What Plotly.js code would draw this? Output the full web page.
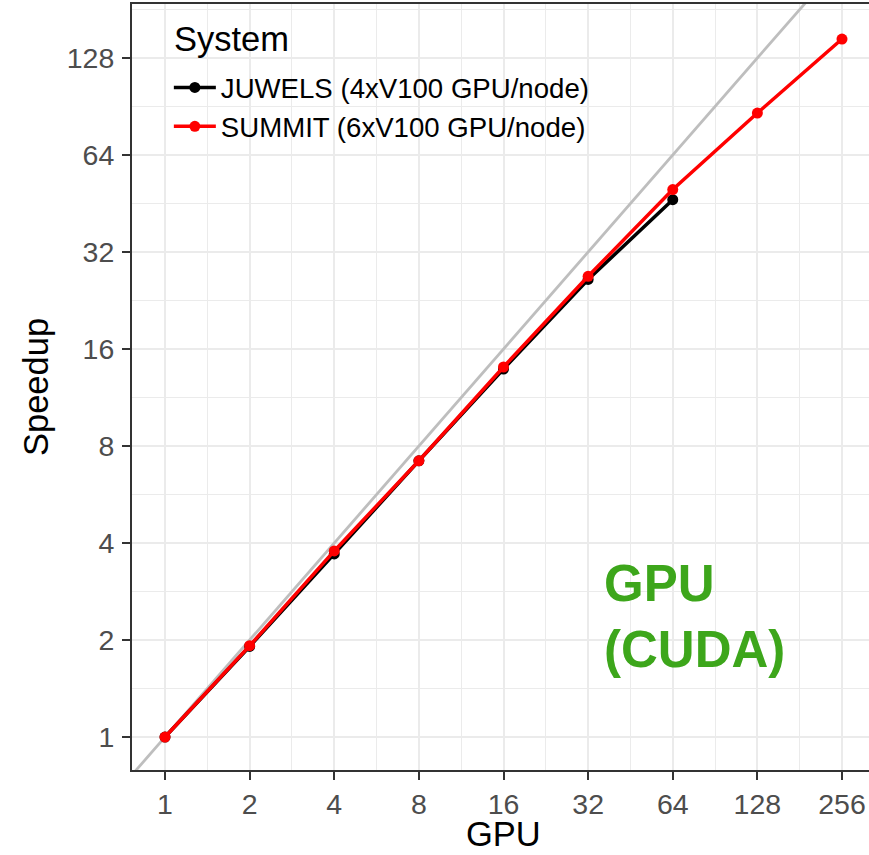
<!DOCTYPE html>
<html>
<head>
<meta charset="utf-8">
<script src="https://cdn.plot.ly/plotly-3.0.1.min.js"></script>
<style>html,body{margin:0;padding:0;background:#fff;}#chart{width:869px;height:855px;}</style>
</head>
<body>
<div id="chart"></div>
<script>
// Data
const gpuTicks = [1, 2, 4, 8, 16, 32, 64, 128, 256];
const speedTicks = [1, 2, 4, 8, 16, 32, 64, 128];
const juwelsGPU = [1, 2, 4, 8, 16, 32, 64];
const juwelsSpeedup = [1, 1.91, 3.70, 7.2, 13.87, 26.3, 46.5];
const summitGPU = [1, 2, 4, 8, 16, 32, 64, 128, 256];
const summitSpeedup = [1, 1.92, 3.78, 7.2, 14.07, 26.9, 50.0, 86.4, 146.6];
const idealGPU = [0.5, 512];
const idealSpeedup = [0.5, 512];

const FONT = '"Liberation Sans", Arial, Helvetica, sans-serif';
const minorX = gpuTicks.map(v => v * Math.SQRT2);
const minorY = speedTicks.map(v => v * Math.SQRT2);

const traces = [
  {x: idealGPU, y: idealSpeedup, mode: 'lines', showlegend: false, hoverinfo: 'skip',
   line: {color: '#bebebe', width: 2.8}},
  {x: juwelsGPU, y: juwelsSpeedup, mode: 'lines+markers', name: 'JUWELS (4xV100 GPU/node)',
   line: {color: '#000000', width: 3.5}, marker: {color: '#000000', size: 11}},
  {x: summitGPU, y: summitSpeedup, mode: 'lines+markers', name: 'SUMMIT (6xV100 GPU/node)',
   line: {color: '#ff0000', width: 3.5}, marker: {color: '#ff0000', size: 11}}
];

const axisCommon = {
  type: 'log',
  showgrid: true, gridcolor: '#ebebeb', gridwidth: 2,
  zeroline: false,
  showline: true, linecolor: '#333333', linewidth: 2,
  ticks: 'outside', ticklen: 8, tickwidth: 2, tickcolor: '#333333',
  tickfont: {family: FONT, size: 28.5, color: '#4d4d4d'},
  ticklabelstandoff: 2
};

const layout = {
  width: 869, height: 855,
  margin: {l: 132, r: 0, t: 4, b: 85},
  paper_bgcolor: '#ffffff', plot_bgcolor: '#ffffff',
  font: {family: FONT, color: '#000000'},
  xaxis: Object.assign({}, axisCommon, {
    range: [Math.log10(2) * -0.390, Math.log10(2) * 8.319],
    tickmode: 'array', tickvals: gpuTicks, ticktext: gpuTicks.map(String),
    mirror: true, ticklabelstandoff: 0,
    minor: {tickmode: 'array', tickvals: minorX, showgrid: true, gridcolor: '#ebebeb', gridwidth: 1, ticks: ''}
  }),
  yaxis: Object.assign({}, axisCommon, {
    range: [Math.log10(2) * -0.340, Math.log10(2) * 7.557],
    tickmode: 'array', tickvals: speedTicks, ticktext: speedTicks.map(String),
    minor: {tickmode: 'array', tickvals: minorY, showgrid: true, gridcolor: '#ebebeb', gridwidth: 1, ticks: ''},
    title: {text: 'Speedup', font: {family: FONT, size: 34.5, color: '#000000'}, standoff: 8}
  }),
  legend: {
    x: 0.05, y: 0.923, xanchor: 'left', yanchor: 'top',
    bgcolor: 'rgba(0,0,0,0)', borderwidth: 0,
    font: {family: FONT, size: 27.6, color: '#000000'},
    itemwidth: 42,
    tracegroupgap: 0
  },
  annotations: [
    {
      xref: 'paper', yref: 'paper', x: (503 - 132) / 737, y: (770 - 834) / 766,
      xanchor: 'center', yanchor: 'middle', showarrow: false, borderpad: 0,
      text: 'GPU',
      font: {family: FONT, size: 34.5, color: '#000000'}
    },
    {
      xref: 'paper', yref: 'paper', x: (172 - 132) / 737, y: (770 - 39) / 766,
      xanchor: 'left', yanchor: 'middle', showarrow: false,
      text: 'System',
      font: {family: FONT, size: 34.5, color: '#000000'}
    },
    {
      xref: 'paper', yref: 'paper', x: 0.6375, y: 0.2,
      xanchor: 'left', yanchor: 'middle', align: 'left', showarrow: false,
      text: '<b>GPU<br>(CUDA)</b>',
      font: {family: FONT, size: 51, color: '#3da61b'}
    }
  ]
};

Plotly.newPlot('chart', traces, layout, {displayModeBar: false, staticPlot: true});
</script>
</body>
</html>
